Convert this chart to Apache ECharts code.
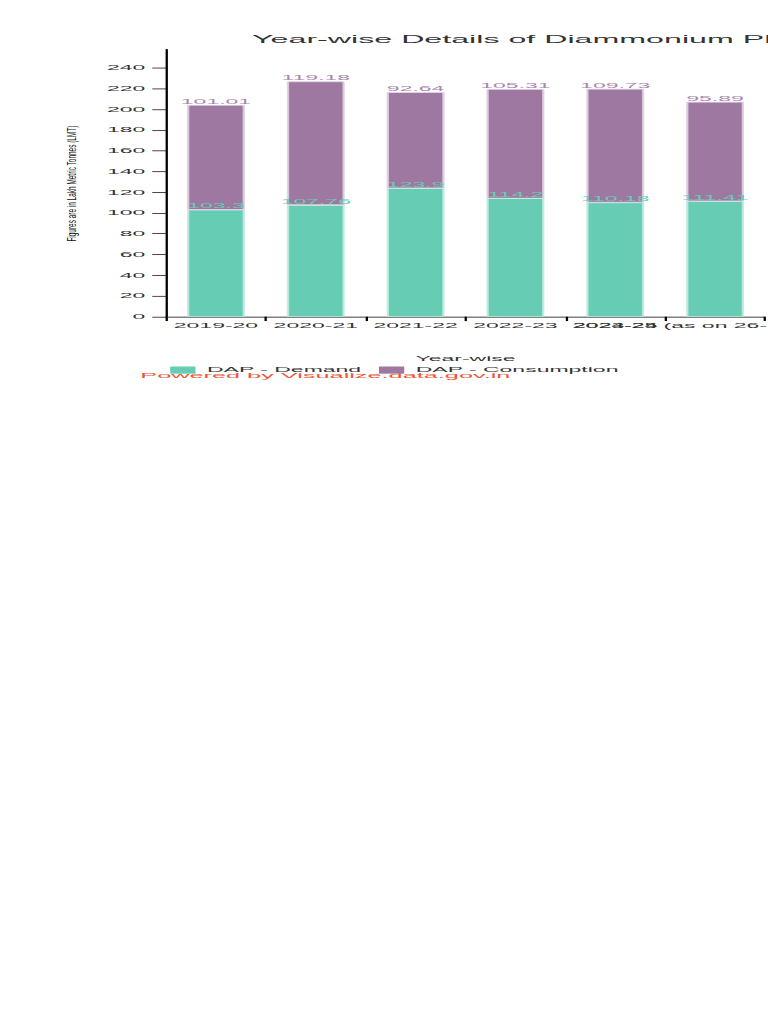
<!DOCTYPE html>
<html>
<head>
<meta charset="utf-8">
<script src="https://cdn.jsdelivr.net/npm/echarts@6/dist/echarts.min.js"></script>
<style>
html, body { margin: 0; padding: 0; background: #fff; overflow: hidden; width: 768px; height: 1024px; }
#chart { width: 334px; height: 1422px; transform: scale(2.3, 0.72); transform-origin: 0 0; }
</style>
</head>
<body>
<div id="chart"></div>
<script>
const categories = ['2019-20', '2020-21', '2021-22', '2022-23', '2023-24', '2024-25 (as on 26-11-2024)'];
const demand = [103.3, 107.76, 123.9, 114.2, 110.18, 111.41];
const consumption = [101.01, 119.18, 92.64, 105.31, 109.73, 95.89];
const seriesNames = ['DAP - Demand', 'DAP - Consumption'];
const titleText = 'Year-wise Details of Diammonium Phosphate (DAP) Demand and Consumption';
const yTitle = 'Figures are in Lakh Metric Tonnes (LMT)';
const xTitle = 'Year-wise';
const credit = 'Powered by Visualize.data.gov.in';

const FONT = 'Liberation Sans, Arial, Helvetica, sans-serif';
const TEAL = '#66cdb4';
const PURPLE = '#9e78a0';

const chart = echarts.init(document.getElementById('chart'), null, { renderer: 'svg' });
chart.setOption({
  animation: false,
  backgroundColor: '#fff',
  textStyle: { fontFamily: FONT },
  grid: { left: 72.2, top: 68.5, width: 260.4, height: 371.4, containLabel: false, outerBoundsMode: 'none' },
  legend: {
    left: 74, top: 509, padding: 0,
    itemWidth: 11, itemHeight: 10, itemGap: 7.5,
    icon: 'rect',
    itemStyle: { borderWidth: 0 },
    textStyle: { fontSize: 10, color: '#333', fontFamily: FONT },
    data: seriesNames
  },
  xAxis: {
    type: 'category',
    data: categories,
    name: xTitle,
    nameLocation: 'middle',
    nameGap: 53,
    nameTextStyle: { fontSize: 10, color: '#333', fontFamily: FONT },
    axisLine: { lineStyle: { color: '#000', width: 1 } },
    axisTick: { show: true, length: 6, lineStyle: { color: '#000' } },
    axisLabel: { interval: 0, fontSize: 10, color: '#333', margin: 7, fontFamily: FONT, hideOverlap: false }
  },
  yAxis: {
    type: 'value',
    min: 0, max: 258, interval: 20,
    axisLine: { show: true, lineStyle: { color: '#000', width: 1 } },
    axisTick: { show: true, length: 6, lineStyle: { color: '#000' } },
    axisLabel: { fontSize: 10, color: '#333', margin: 9, showMaxLabel: false, fontFamily: FONT },
    splitLine: { show: false }
  },
  graphic: [
    {
      type: 'text', left: 109.6, top: 48,
      style: { text: titleText, fontSize: 14, fill: '#333', font: '14px ' + FONT }
    },
    {
      type: 'text', x: 31.1, y: 255, rotation: Math.PI / 2, scaleX: 1.63, scaleY: 1,
      style: { text: yTitle, font: '5.5px ' + FONT, fill: '#111', align: 'center', verticalAlign: 'middle' }
    },
    {
      type: 'text', left: 61, top: 516,
      style: { text: credit, font: '11px ' + FONT, fill: '#ee5534' }
    }
  ],
  series: [
    {
      name: seriesNames[0], type: 'bar', stack: 'total', barWidth: '58%',
      data: demand,
      itemStyle: { color: TEAL, borderColor: 'rgba(190,235,222,0.9)', borderWidth: 1 },
      label: { show: true, position: 'top', distance: 0, fontSize: 10, color: TEAL, fontFamily: FONT }
    },
    {
      name: seriesNames[1], type: 'bar', stack: 'total', barWidth: '58%',
      data: consumption,
      itemStyle: { color: PURPLE, borderColor: 'rgba(222,205,226,0.9)', borderWidth: 1 },
      label: { show: true, position: 'top', distance: 0, fontSize: 10, color: '#a986ad', fontFamily: FONT }
    }
  ]
});
</script>
</body>
</html>
